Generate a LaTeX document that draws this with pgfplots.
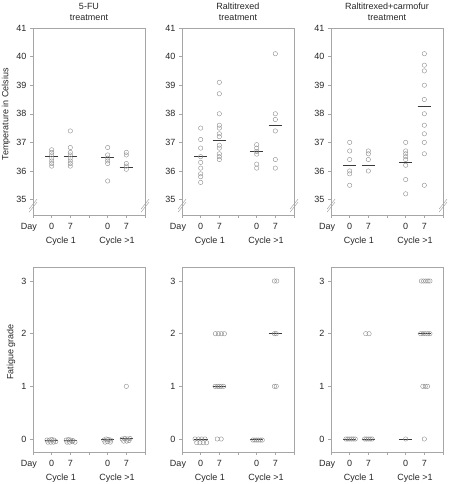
\documentclass[border=0pt]{standalone}
\usepackage{fontspec}
\setmainfont{Liberation Sans}
\usepackage{pgfplots}
\pgfplotsset{compat=1.18}
\definecolor{axgray}{HTML}{A6A6A6}
\definecolor{ptgray}{HTML}{8C8C8C}
\definecolor{medgray}{HTML}{3A3A3A}
\definecolor{txt}{HTML}{262626}
\newcommand{\f}{\fontsize{9}{10}\selectfont}
\pgfplotsset{
  panel/.style={
    scale only axis, width=112pt, xmin=0, xmax=6, clip=false,
    axis line style={axgray, line width=0.5pt},
    tick style={axgray, line width=0.5pt},
    tick align=outside, major tick length=3pt,
    xtick={0,1,2,3,4,5,6}, xticklabels={,0,7,,0,7,},
    extra x ticks={0}, extra x tick labels={Day},
    extra x tick style={tick style={draw=none}, xticklabel style={xshift=-4pt}},
    xtick pos=bottom, ytick pos=left,
    ticklabel style={font=\f, text=txt},
    xticklabel style={yshift=-2pt},
    /pgf/number format/assume math mode=true,
  },
  top/.style={panel, height=187pt, ymin=34.46, ymax=41, ytick={35,36,37,38,39,40,41}},
  bot/.style={panel, height=185pt, ymin=-0.247, ymax=3.266, ytick={0,1,2,3}},
  pts/.style={only marks, mark=o, mark size=2.2pt, ptgray, mark options={line width=0.4pt}},
  med/.style={medgray, line width=0.8pt, no marks},
}
\newcommand{\brk}{%
  \draw[axgray, line width=0.5pt] ([xshift=-4pt,yshift=-6.5pt]rel axis cs:0,0.05) -- ([xshift=4pt,yshift=3.5pt]rel axis cs:0,0.05);
  \draw[axgray, line width=0.5pt] ([xshift=-4pt,yshift=-3.5pt]rel axis cs:0,0.05) -- ([xshift=4pt,yshift=6.5pt]rel axis cs:0,0.05);
  \draw[axgray, line width=0.5pt] ([xshift=-4pt,yshift=-6.5pt]rel axis cs:1,0.05) -- ([xshift=4pt,yshift=3.5pt]rel axis cs:1,0.05);
  \draw[axgray, line width=0.5pt] ([xshift=-4pt,yshift=-3.5pt]rel axis cs:1,0.05) -- ([xshift=4pt,yshift=6.5pt]rel axis cs:1,0.05);
}
\newcommand{\cyc}{%
  \node[font=\f, text=txt] at ([yshift=-26pt]rel axis cs:0.25,0) {Cycle 1};
  \node[font=\f, text=txt] at ([yshift=-26pt]rel axis cs:0.75,0) {Cycle >1};
}
\newcommand{\ttl}[1]{%
  \node[font=\f, text=txt, anchor=base] at ([yshift=18.5pt]rel axis cs:0.5,1) {#1};
  \node[font=\f, text=txt, anchor=base] at ([yshift=7.5pt]rel axis cs:0.5,1) {treatment};
}
\begin{document}
\begin{tikzpicture}
\path[use as bounding box] (0,0) rectangle (449pt,-484pt);
% ---------- Top row: temperature ----------
\begin{axis}[top, at={(33pt,-28pt)}, anchor=north west]
\addplot[pts] coordinates {(1,36.74)(1,36.65)(1,36.56)(1,36.45)(1,36.35)(1,36.26)(1,36.17)
 (2,37.4)(2,36.82)(2,36.65)(2,36.56)(2,36.45)(2,36.35)(2,36.26)(2,36.17)
 (4,36.82)(4,36.56)(4,36.45)(4,36.35)(4,36.26)(4,35.65)
 (5,36.65)(5,36.56)(5,36.26)(5,36.17)(5,36.06)};
\addplot[med] coordinates {(0.64,36.52)(1.36,36.52)};
\addplot[med] coordinates {(1.64,36.52)(2.36,36.52)};
\addplot[med] coordinates {(3.64,36.48)(4.36,36.48)};
\addplot[med] coordinates {(4.64,36.14)(5.36,36.14)};
\brk \cyc \ttl{5-FU}
\node[rotate=90, font=\f, text=txt] at ([xshift=-27pt]rel axis cs:0,0.54) {Temperature in Celsius};
\end{axis}
\begin{axis}[top, at={(182pt,-28pt)}, anchor=north west]
\addplot[pts] coordinates {(1,37.5)(1,37.1)(1,36.8)(1,36.5)(1,36.3)(1,36.1)(1,35.9)(1,35.8)(1,35.6)
 (2,39.1)(2,38.7)(2,38.0)(2,37.6)(2,37.5)(2,37.3)(2,37.2)(2,36.9)(2,36.8)(2,36.6)(2,36.5)(2,36.4)
 (4,36.92)(4,36.8)(4,36.68)(4,36.59)(4,36.24)(4,36.1)
 (5,40.1)(5,38.0)(5,37.8)(5,37.4)(5,36.4)(5,36.1)};
\addplot[med] coordinates {(0.64,36.5)(1.36,36.5)};
\addplot[med] coordinates {(1.64,37.07)(2.36,37.07)};
\addplot[med] coordinates {(3.64,36.68)(4.36,36.68)};
\addplot[med] coordinates {(4.64,37.6)(5.36,37.6)};
\brk \cyc \ttl{Raltitrexed}
\end{axis}
\begin{axis}[top, at={(331pt,-28pt)}, anchor=north west]
\addplot[pts] coordinates {(1,37.0)(1,36.7)(1,36.4)(1,36.0)(1,35.9)(1,35.5)
 (2,36.7)(2,36.6)(2,36.4)(2,36.0)
 (4,37.0)(4,36.7)(4,36.6)(4,36.5)(4,36.4)(4,36.2)(4,35.7)(4,35.2)
 (5,40.1)(5,39.7)(5,39.5)(5,39.0)(5,38.5)(5,38.0)(5,37.6)(5,37.3)(5,37.0)(5,36.6)(5,35.5)};
\addplot[med] coordinates {(0.64,36.2)(1.36,36.2)};
\addplot[med] coordinates {(1.64,36.2)(2.36,36.2)};
\addplot[med] coordinates {(3.64,36.3)(4.36,36.3)};
\addplot[med] coordinates {(4.64,38.25)(5.36,38.25)};
\brk \cyc \ttl{Raltitrexed+carmofur}
\end{axis}
% ---------- Bottom row: fatigue ----------
\begin{axis}[bot, at={(33pt,-267pt)}, anchor=north west]
\addplot[pts] coordinates {(0.75,-0.02)(0.88,-0.02)(1.0,-0.01)(1.12,-0.02)(0.8,-0.06)(0.95,-0.06)(1.1,-0.06)(1.22,-0.05)
 (1.78,-0.02)(1.9,-0.01)(2.02,-0.02)(2.14,-0.03)(1.82,-0.06)(1.96,-0.06)(2.1,-0.05)(2.25,-0.06)
 (3.8,-0.02)(3.92,0.0)(4.04,-0.01)(4.16,-0.02)(3.86,-0.06)(4.0,-0.05)(4.14,-0.06)
 (4.78,0.0)(4.92,0.01)(5.06,0.0)(5.2,0.01)(4.86,-0.04)(5.02,-0.04)(5.14,-0.03)(5,1)};
\addplot[med] coordinates {(0.64,-0.03)(1.36,-0.03)};
\addplot[med] coordinates {(1.64,-0.03)(2.36,-0.03)};
\addplot[med] coordinates {(3.64,-0.01)(4.36,-0.01)};
\addplot[med] coordinates {(4.64,0.02)(5.36,0.02)};
\cyc
\node[rotate=90, font=\f, text=txt] at ([xshift=-22pt]rel axis cs:0,0.54) {Fatigue grade};
\end{axis}
\begin{axis}[bot, at={(182pt,-267pt)}, anchor=north west]
\addplot[pts] coordinates {(0.7,0)(0.88,0)(1.05,0)(1.23,0)(0.79,-0.07)(0.96,-0.07)(1.14,-0.07)(1.32,-0.07)
 (1.89,0)(2.1,0)
 (1.77,1)(1.9,1)(2.0,1)(2.1,1)(2.23,1)
 (1.79,2)(1.95,2)(2.11,2)(2.27,2)
 (3.8,-0.02)(3.9,-0.02)(4.0,-0.02)(4.1,-0.02)(4.2,-0.02)(4.3,-0.02)
 (4.95,3)(5.08,3)(4.95,2)(5.05,2)(4.95,1)(5.05,1)};
\addplot[med] coordinates {(0.62,0)(1.38,0)};
\addplot[med] coordinates {(1.64,1)(2.36,1)};
\addplot[med] coordinates {(3.64,0)(4.36,0)};
\addplot[med] coordinates {(4.64,2)(5.36,2)};
\cyc
\end{axis}
\begin{axis}[bot, at={(331pt,-267pt)}, anchor=north west]
\addplot[pts] coordinates {(0.8,0)(0.9,0)(1.0,0)(1.1,0)(1.2,0)(1.3,0)
 (1.8,0)(1.9,0)(2.0,0)(2.1,0)(2.2,0)
 (1.86,2)(2.04,2)
 (4,0)
 (5,0)(4.92,1)(5.05,1)(5.17,1)
 (4.8,2)(4.93,2)(5.05,2)(5.18,2)(5.3,2)
 (4.84,3)(4.96,3)(5.08,3)(5.2,3)(5.3,3)};
\addplot[med] coordinates {(0.64,0)(1.36,0)};
\addplot[med] coordinates {(1.64,0)(2.36,0)};
\addplot[med] coordinates {(3.64,0)(4.36,0)};
\addplot[med] coordinates {(4.64,2)(5.36,2)};
\cyc
\end{axis}
\end{tikzpicture}
\end{document}
